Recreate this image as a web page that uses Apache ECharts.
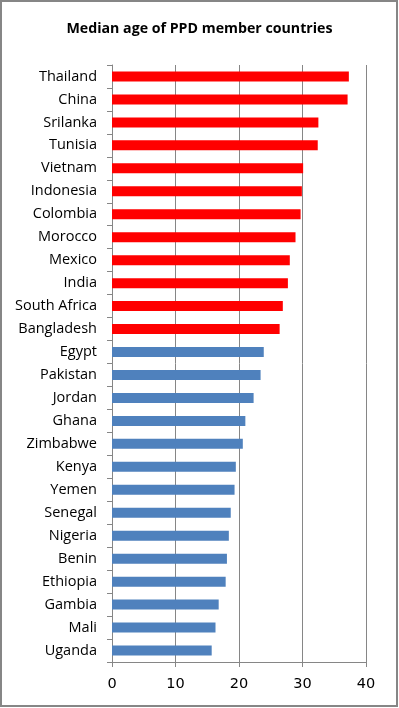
<!DOCTYPE html>
<html>
<head>
<meta charset="utf-8">
<script src="https://cdn.jsdelivr.net/npm/echarts@6/dist/echarts.min.js"></script>
<style>
  html, body { margin: 0; padding: 0; background: #fff; }
  #main { width: 399px; height: 708px; }
</style>
</head>
<body>
<div id="main"></div>
<script>
// countries top to bottom, as in the picture
const countries = ['Thailand', 'China', 'Srilanka', 'Tunisia', 'Vietnam', 'Indonesia', 'Colombia',
  'Morocco', 'Mexico', 'India', 'South Africa', 'Bangladesh', 'Egypt', 'Pakistan', 'Jordan',
  'Ghana', 'Zimbabwe', 'Kenya', 'Yemen', 'Senegal', 'Nigeria', 'Benin', 'Ethiopia', 'Gambia',
  'Mali', 'Uganda'];
const medianAge = [37.3, 37.1, 32.5, 32.4, 30.1, 29.9, 29.7, 28.9, 28.0, 27.7, 26.9, 26.4,
  23.9, 23.4, 22.3, 21.0, 20.6, 19.5, 19.3, 18.7, 18.4, 18.1, 17.9, 16.8, 16.3, 15.7];
// first 12 are highlighted red, rest blue
const highlightCount = 12;
const xTicks = [0, 10, 20, 30, 40];

let myChart = echarts.init(document.getElementById('main'));

myChart.setOption({
    backgroundColor: '#fff',
    animation: false,
    title: {
        text: 'Median age of PPD member countries',
        left: 'center',
        top: 17,
        textStyle: { fontFamily: 'Open Sans', fontSize: 14.2, fontWeight: 'bold', color: '#000' }
    },
    graphic: [{
        type: 'rect',
        shape: { x: 1, y: 1, width: 396, height: 705 },
        style: { fill: 'none', stroke: '#868686', lineWidth: 2 },
        silent: true
    }],
    grid: { left: 112, right: 33, top: 65, bottom: 46 },
    xAxis: {
        type: 'value',
        min: xTicks[0],
        max: xTicks[xTicks.length - 1],
        interval: 10,
        axisLine: { show: true, lineStyle: { color: '#868686', width: 1 } },
        axisTick: { show: true, length: 5, lineStyle: { color: '#868686' } },
        axisLabel: { color: '#000', fontFamily: 'DejaVu Sans', fontSize: 14.5, margin: 15 },
        splitLine: { show: true, lineStyle: { color: '#868686', width: 1 } }
    },
    yAxis: {
        type: 'category',
        inverse: true,
        data: countries,
        axisLine: { show: true, lineStyle: { color: '#868686', width: 1 } },
        axisTick: { show: true, length: 5, lineStyle: { color: '#868686' } },
        axisLabel: { color: '#000', fontFamily: 'Open Sans', fontSize: 14.5, margin: 15 }
    },
    series: [{
        type: 'bar',
        barWidth: 10,
        data: medianAge.map(function (v, i) {
            return {
                value: v,
                itemStyle: { color: i < highlightCount ? '#FF0000' : '#4F81BD' }
            };
        })
    }]
});
</script>
</body>
</html>
